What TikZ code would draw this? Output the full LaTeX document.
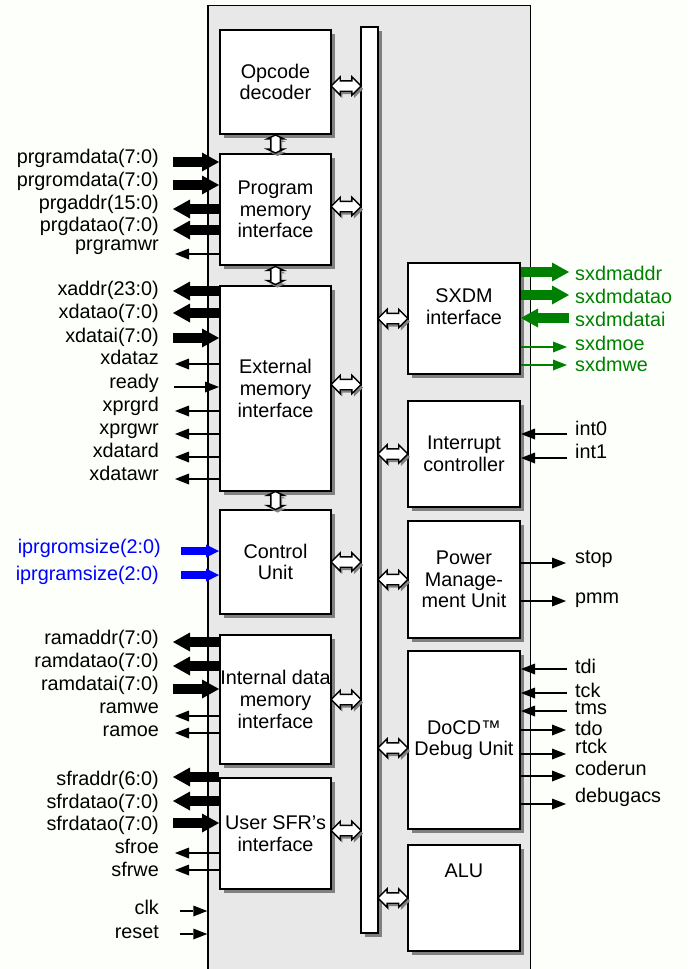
\documentclass[tikz,border=0pt]{standalone}
\usepackage{fontspec}
\setmainfont{Liberation Sans}
\usetikzlibrary{positioning,shapes.arrows,shadows,arrows.meta}
\definecolor{paper}{RGB}{252,255,250}
\definecolor{chipgray}{RGB}{232,232,232}
\definecolor{sxgreen}{RGB}{0,128,0}

\begin{document}
\begin{tikzpicture}[x=1pt, y=-1pt, font=\fontsize{19.8}{21.7}\selectfont,
  shade box/.style={drop shadow={shadow xshift=4pt, shadow yshift=-4pt, fill=black!50, opacity=1}},
  blk/.style={draw, line width=2pt, fill=white, minimum width=111pt, inner sep=0pt, align=center, shade box},
  boxtext/.style={inner sep=0pt, align=center},
  hlink/.style={double arrow, draw, line width=1.4pt, fill=white, inner xsep=0pt, inner ysep=4.5pt,
    minimum height=30pt, double arrow head extend=4pt,
    drop shadow={shadow xshift=2pt, shadow yshift=-3pt, fill=black!50, opacity=1}},
  vlink/.style={hlink, rotate=90, inner ysep=4pt, minimum height=18pt, double arrow head extend=3.5pt,
    double arrow tip angle=130},
  lbl/.style={inner sep=0pt, text height=14.5pt, text depth=4.2pt},
  wide in/.style={line width=10pt, -{Triangle[length=17pt,width=19pt,line width=0pt]}},
  wide out/.style={line width=10pt, {Triangle[length=17pt,width=19pt,line width=0pt]}-},
  thin in/.style={line width=2pt, -{Triangle[length=14pt,width=11pt,line width=0pt]}},
  thin out/.style={line width=2pt, {Triangle[length=14pt,width=11pt,line width=0pt]}-},
  blue in/.style={blue, line width=8pt, -{Triangle[length=13pt,width=13pt,line width=0pt]}}]

  \useasboundingbox (0,0) rectangle (688,969);
  \fill[paper] (0,0) rectangle (688,969);

  % chip and internal bus
  \node[draw, line width=1.5pt, fill=chipgray, minimum width=322.5pt, minimum height=980pt, inner sep=0pt] (chip) at (369.25,495.5) {};
  \node[draw, line width=1.8pt, fill=white, minimum width=17pt, minimum height=906pt, inner sep=0pt, shade box] (bus) at (369.5,480) {};

  % left column
  \node[blk, minimum height=104pt] (op) at (275.5,82) {Opcode\\decoder};
  \node[blk, minimum height=111pt, below=18pt of op] (prog) {Program\\memory\\interface};
  \node[blk, minimum height=205pt, below=19pt of prog] (ext) {External\\memory\\interface};
  \node[blk, minimum height=104pt, below=17pt of ext] (ctrl) {Control\\Unit};
  \node[blk, minimum height=129pt, below=19pt of ctrl] (intd) {Internal data\\memory\\interface};
  \node[blk, minimum height=111pt, below=12pt of intd] (sfr) {User SFR’s\\interface};

  % right column
  \node[blk, minimum width=112pt, minimum height=111pt] (sxdm) at (464,318.5) {};
  \node[boxtext] (sxdmtext) at (464,307) {SXDM\\interface};
  \node[blk, minimum width=112pt, minimum height=106pt, below=25pt of sxdm] (intr) {Interrupt\\controller};
  \node[blk, minimum width=112pt, minimum height=117pt, below=12pt of intr] (pwr) {Power\\Manage-\\ment Unit};
  \node[blk, minimum width=112pt, minimum height=178pt, below=11pt of pwr] (docd) {DoCD™\\Debug Unit};
  \node[blk, minimum width=112pt, minimum height=106pt, below=14pt of docd] (alu) {};
  \node[boxtext] (alutext) at (464,871) {ALU};

  % links to the bus
  \path (op.east) -- node[hlink, yshift=-4pt] (op-bus) {} (op.east -| bus.west);
  \path (prog.east) -- node[hlink, yshift=3pt] (prog-bus) {} (prog.east -| bus.west);
  \path (ext.east) -- node[hlink, yshift=4pt] (ext-bus) {} (ext.east -| bus.west);
  \path (ctrl.east) -- node[hlink] (ctrl-bus) {} (ctrl.east -| bus.west);
  \path (intd.east) -- node[hlink] (intd-bus) {} (intd.east -| bus.west);
  \path (sfr.east) -- node[hlink, yshift=3pt] (sfr-bus) {} (sfr.east -| bus.west);
  \path (bus.east |- sxdm.west) -- node[hlink] (bus-sxdm) {} (sxdm.west);
  \path (bus.east |- intr.west) -- node[hlink] (bus-intr) {} (intr.west);
  \path (bus.east |- pwr.west) -- node[hlink] (bus-pwr) {} (pwr.west);
  \path (bus.east |- docd.west) -- node[hlink, yshift=-8pt] (bus-docd) {} (docd.west);
  \path (bus.east |- alu.west) -- node[hlink] (bus-alu) {} (alu.west);
  \path (op.south) -- node[vlink] (op-prog) {} (prog.north);
  \path (prog.south) -- node[vlink] (prog-ext) {} (ext.north);
  \path (ext.south) -- node[vlink] (ext-ctrl) {} (ctrl.north);

  % program memory
  \node[lbl, left] (prgramdata-l) at (159,158) {prgramdata(7:0)};
  \draw[wide in] (173,162) coordinate (prgramdata) -- (prgramdata -| prog.west);
  \node[lbl, left] (prgromdata-l) at (159,181) {prgromdata(7:0)};
  \draw[wide in] (173,185) coordinate (prgromdata) -- (prgromdata -| prog.west);
  \node[lbl, left] (prgaddr-l) at (159,204) {prgaddr(15:0)};
  \draw[wide out] (173,209) coordinate (prgaddr) -- (prgaddr -| prog.west);
  \node[lbl, left] (prgdatao-l) at (159,226) {prgdatao(7:0)};
  \draw[wide out] (173,230) coordinate (prgdatao) -- (prgdatao -| prog.west);
  \node[lbl, left] (prgramwr-l) at (159,245) {prgramwr};
  \draw[thin out] (175,254) coordinate (prgramwr) -- (prgramwr -| prog.west);

  % external memory
  \node[lbl, left] (xaddr-l) at (159,290) {xaddr(23:0)};
  \draw[wide out] (173,291) coordinate (xaddr) -- (xaddr -| ext.west);
  \node[lbl, left] (xdatao-l) at (159,313) {xdatao(7:0)};
  \draw[wide out] (173,313) coordinate (xdatao) -- (xdatao -| ext.west);
  \node[lbl, left] (xdatai-l) at (159,337) {xdatai(7:0)};
  \draw[wide in] (173,338) coordinate (xdatai) -- (xdatai -| ext.west);
  \node[lbl, left] (xdataz-l) at (159,359) {xdataz};
  \draw[thin out] (175,364) coordinate (xdataz) -- (xdataz -| ext.west);
  \node[lbl, left] (ready-l) at (159,383) {ready};
  \draw[thin in] (174,387) coordinate (ready) -- (ready -| ext.west);
  \node[lbl, left] (xprgrd-l) at (159,406) {xprgrd};
  \draw[thin out] (175,411) coordinate (xprgrd) -- (xprgrd -| ext.west);
  \node[lbl, left] (xprgwr-l) at (159,429) {xprgwr};
  \draw[thin out] (175,434) coordinate (xprgwr) -- (xprgwr -| ext.west);
  \node[lbl, left] (xdatard-l) at (159,452) {xdatard};
  \draw[thin out] (175,457) coordinate (xdatard) -- (xdatard -| ext.west);
  \node[lbl, left] (xdatawr-l) at (159,475) {xdatawr};
  \draw[thin out] (175,479) coordinate (xdatawr) -- (xdatawr -| ext.west);

  % control unit
  \node[lbl, left, blue] (iprgromsize-l) at (161,548) {iprgromsize(2:0)};
  \draw[blue in] (181,551) coordinate (iprgromsize) -- (iprgromsize -| ctrl.west);
  \node[lbl, left, blue] (iprgramsize-l) at (159,575) {iprgramsize(2:0)};
  \draw[blue in] (181,575) coordinate (iprgramsize) -- (iprgramsize -| ctrl.west);

  % internal data memory
  \node[lbl, left] (ramaddr-l) at (159,639) {ramaddr(7:0)};
  \draw[wide out] (173,642) coordinate (ramaddr) -- (ramaddr -| intd.west);
  \node[lbl, left] (ramdatao-l) at (159,662) {ramdatao(7:0)};
  \draw[wide out] (173,666) coordinate (ramdatao) -- (ramdatao -| intd.west);
  \node[lbl, left] (ramdatai-l) at (159,685) {ramdatai(7:0)};
  \draw[wide in] (173,689) coordinate (ramdatai) -- (ramdatai -| intd.west);
  \node[lbl, left] (ramwe-l) at (159,708) {ramwe};
  \draw[thin out] (175,716) coordinate (ramwe) -- (ramwe -| intd.west);
  \node[lbl, left] (ramoe-l) at (159,731) {ramoe};
  \draw[thin out] (175,733) coordinate (ramoe) -- (ramoe -| intd.west);

  % user SFRs
  \node[lbl, left] (sfraddr-l) at (159,780) {sfraddr(6:0)};
  \draw[wide out] (173,777) coordinate (sfraddr) -- (sfraddr -| sfr.west);
  \node[lbl, left] (sfrdatao-l) at (159,803) {sfrdatao(7:0)};
  \draw[wide out] (173,801) coordinate (sfrdatao) -- (sfrdatao -| sfr.west);
  \node[lbl, left] (sfrdatai-l) at (159,825) {sfrdatao(7:0)};
  \draw[wide in] (173,823) coordinate (sfrdatai) -- (sfrdatai -| sfr.west);
  \node[lbl, left] (sfroe-l) at (159,848) {sfroe};
  \draw[thin out] (175,853) coordinate (sfroe) -- (sfroe -| sfr.west);
  \node[lbl, left] (sfrwe-l) at (159,871) {sfrwe};
  \draw[thin out] (175,870) coordinate (sfrwe) -- (sfrwe -| sfr.west);

  % clock and reset
  \node[lbl, left] (clk-l) at (159,909) {clk};
  \draw[thin in] (180,911) coordinate (clk) -- (clk -| chip.west);
  \node[lbl, left] (reset-l) at (159,933) {reset};
  \draw[thin in] (180,934) coordinate (reset) -- (reset -| chip.west);

  % SXDM
  \node[lbl, right, sxgreen] (sxdmaddr-l) at (575,275) {sxdmaddr};
  \draw[wide out, sxgreen] (569,272) coordinate (sxdmaddr) -- (sxdmaddr -| sxdm.east);
  \node[lbl, right, sxgreen] (sxdmdatao-l) at (575,298) {sxdmdatao};
  \draw[wide out, sxgreen] (569,295) coordinate (sxdmdatao) -- (sxdmdatao -| sxdm.east);
  \node[lbl, right, sxgreen] (sxdmdatai-l) at (575,321) {sxdmdatai};
  \draw[wide in, sxgreen] (569,318) coordinate (sxdmdatai) -- (sxdmdatai -| sxdm.east);
  \node[lbl, right, sxgreen] (sxdmoe-l) at (575,345) {sxdmoe};
  \draw[thin out, sxgreen] (567,347) coordinate (sxdmoe) -- (sxdmoe -| sxdm.east);
  \node[lbl, right, sxgreen] (sxdmwe-l) at (575,366) {sxdmwe};
  \draw[thin out, sxgreen] (567,365) coordinate (sxdmwe) -- (sxdmwe -| sxdm.east);

  % interrupts and power
  \node[lbl, right] (int0-l) at (575,430) {int0};
  \draw[thin in] (567,434) coordinate (int0) -- (int0 -| intr.east);
  \node[lbl, right] (int1-l) at (575,453) {int1};
  \draw[thin in] (567,458) coordinate (int1) -- (int1 -| intr.east);
  \node[lbl, right] (stop-l) at (575,558) {stop};
  \draw[thin out] (566,563) coordinate (stop) -- (stop -| pwr.east);
  \node[lbl, right] (pmm-l) at (575,598) {pmm};
  \draw[thin out] (566,601) coordinate (pmm) -- (pmm -| pwr.east);

  % debug unit
  \node[lbl, right] (tdi-l) at (575,668) {tdi};
  \draw[thin in] (567,669) coordinate (tdi) -- (tdi -| docd.east);
  \node[lbl, right] (tck-l) at (575,692) {tck};
  \draw[thin in] (567,693) coordinate (tck) -- (tck -| docd.east);
  \node[lbl, right, text height=13pt, text depth=0pt] (tms-l) at (575,708) {tms};
  \draw[thin in] (567,711) coordinate (tms) -- (tms -| docd.east);
  \node[lbl, right] (tdo-l) at (575,730) {tdo};
  \draw[thin out] (566,730) coordinate (tdo) -- (tdo -| docd.east);
  \node[lbl, right] (rtck-l) at (575,748) {rtck};
  \draw[thin out] (566,754) coordinate (rtck) -- (rtck -| docd.east);
  \node[lbl, right] (coderun-l) at (575,770) {coderun};
  \draw[thin out] (566,776) coordinate (coderun) -- (coderun -| docd.east);
  \node[lbl, right] (debugacs-l) at (575,797) {debugacs};
  \draw[thin out] (566,804) coordinate (debugacs) -- (debugacs -| docd.east);
\end{tikzpicture}
\end{document}
